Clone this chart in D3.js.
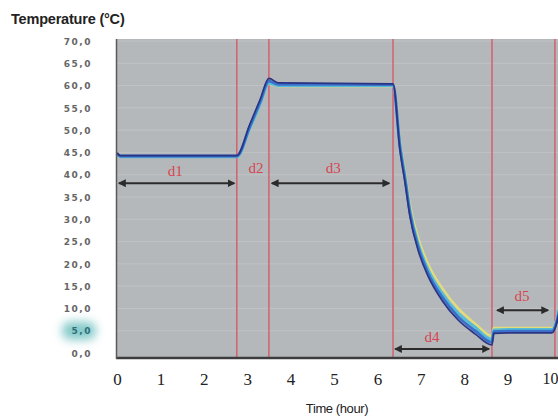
<!DOCTYPE html>
<html><head><meta charset="utf-8">
<script src="https://cdn.jsdelivr.net/npm/d3@7"></script>
<style>
html,body{margin:0;padding:0;background:#fff;overflow:hidden}
svg{display:block}
</style></head>
<body>
<svg id="chart" width="558" height="416"></svg>
<script>
// ---- data ----
const time   = [0, 0.08, 2.76, 3.06, 3.3, 3.5, 3.72, 6.36, 6.52, 6.64, 6.75, 6.94, 7.17, 7.49, 7.86, 8.25, 8.64, 8.68, 9.0, 10.02, 10.3];
const navy   = [44.9, 44.3, 44.3, 51.3, 56.9, 61.6, 60.6, 60.4, 45.5, 38.0, 30.6, 23.0, 17.2, 11.8, 7.4, 4.3, 1.8, 4.4, 4.5, 4.5, 15];
const blue   = [44.8, 44.2, 44.2, 50.8, 56.4, 61.0, 60.3, 60.2, 46.2, 38.8, 31.4, 23.8, 17.9, 12.6, 8.1, 5.0, 2.4, 4.8, 4.9, 4.9, 15];
const cyan   = [44.6, 44.0, 44.0, 50.3, 55.8, 60.5, 60.0, 60.0, 47.0, 39.6, 32.2, 24.6, 18.7, 13.4, 8.9, 5.8, 3.0, 5.2, 5.3, 5.3, 16];
const yellow = [44.6, 44.0, 44.0, 50.2, 55.7, 60.4, 59.9, 59.9, 47.6, 40.4, 33.2, 25.8, 19.9, 14.6, 10.0, 6.6, 3.8, 5.6, 5.6, 5.6, 16];
const seriesNames = ["yellow", "cyan", "blue", "navy"];
const seriesValues = [yellow, cyan, blue, navy];
const phaseBounds = [2.76, 3.5, 6.36, 8.64, 10.09];
const phaseLabels = ["d1", "d2", "d3", "d4", "d5"];
const labelTime   = [1.34, 3.2, 4.98, 7.26, 9.33];
const labelTemp   = [39.6, 40.4, 40.4, 2.5, 11.7];
const arrowStart  = [0.05, null, 3.57, 6.41, 8.76];
const arrowEnd    = [2.70, null, 6.27, 8.57, 9.93];
const arrowTemp   = [38.1, null, 38.1, 0.9, 9.6];
const xTicks = [0,1,2,3,4,5,6,7,8,9,10];
const yTicks = [0,5,10,15,20,25,30,35,40,45,50,55,60,65,70];

// ---- styles ----
const colors = {yellow:"#e2dd78", cyan:"#55bcd8", blue:"#3c6fca", navy:"#2a3483"};
const widths = {yellow:2.4, cyan:2.8, blue:2.8, navy:1.7};

const svg = d3.select("#chart");
const x = d3.scaleLinear().domain([0,10]).range([117,551]);
const y = d3.scaleLinear().domain([0,70]).range([353,41]);

const defs = svg.append("defs");
defs.append("clipPath").attr("id","plotclip").append("rect")
  .attr("x",117).attr("y",36).attr("width",441).attr("height",322);
const blur = defs.append("filter").attr("id","glow").attr("x","-50%").attr("y","-50%").attr("width","200%").attr("height","200%");
blur.append("feGaussianBlur").attr("stdDeviation",5);
const mk = (id, path, refX) => defs.append("marker").attr("id",id)
  .attr("viewBox","0 0 6 6").attr("refX",refX).attr("refY",3)
  .attr("markerWidth",4).attr("markerHeight",4).attr("orient","auto")
  .append("path").attr("d",path).attr("fill","#2b2b2b");
mk("ah","M0,0L6,3L0,6Z",5);
mk("at","M6,0L0,3L6,6Z",1);

// plot background
svg.append("rect").attr("x",116).attr("y",39).attr("width",442).attr("height",320).attr("fill","#b5b8bb");

// faint horizontal stripes
svg.append("g").selectAll("line").data(yTicks.slice(1)).join("line")
  .attr("x1",117).attr("x2",558).attr("y1",d=>y(d)).attr("y2",d=>y(d))
  .attr("stroke","#c3c6c8").attr("stroke-width",1).attr("opacity",0.8);

// glow around 5,0
svg.append("rect").attr("x",62).attr("y",y(5)-9).attr("width",34).attr("height",18).attr("rx",8)
  .attr("fill","#66bcbc").attr("opacity",0.8).attr("filter","url(#glow)");

// red phase boundaries
svg.append("g").selectAll("line").data(phaseBounds).join("line")
  .attr("x1",d=>x(d)).attr("x2",d=>x(d)).attr("y1",39).attr("y2",358)
  .attr("stroke","#d4606e").attr("stroke-width",1.5);

// lines
const line = d3.line().x(d=>x(d[0])).y(d=>y(d[1])).curve(d3.curveMonotoneX);
const lg = svg.append("g").attr("clip-path","url(#plotclip)");
seriesNames.forEach((name,i)=>{
  lg.append("path").datum(time.map((t,j)=>[t, seriesValues[i][j]]))
    .attr("d",line).attr("fill","none")
    .attr("stroke",colors[name]).attr("stroke-width",widths[name])
    .attr("stroke-linejoin","round");
});

// phase arrows and labels
phaseLabels.forEach((lab,i)=>{
  if(arrowStart[i]!==null){
    svg.append("line").attr("x1",x(arrowStart[i])).attr("x2",x(arrowEnd[i]))
      .attr("y1",y(arrowTemp[i])).attr("y2",y(arrowTemp[i]))
      .attr("stroke","#2b2b2b").attr("stroke-width",2)
      .attr("marker-start","url(#at)").attr("marker-end","url(#ah)");
  }
  svg.append("text").attr("x",x(labelTime[i])).attr("y",y(labelTemp[i]))
    .attr("text-anchor","middle").attr("font-family","Liberation Serif")
    .attr("font-size",15).attr("fill","#d8444f").text(lab);
});

// axes lines
svg.append("line").attr("x1",116).attr("x2",558).attr("y1",358).attr("y2",358)
  .attr("stroke","#3c3c3c").attr("stroke-width",2.5);
svg.append("line").attr("x1",116.5).attr("x2",116.5).attr("y1",39).attr("y2",359)
  .attr("stroke","#5a5a5a").attr("stroke-width",1.5);

// y axis labels
const yAxis = d3.axisLeft(y).tickValues(yTicks).tickSize(0).tickPadding(0)
  .tickFormat(d=>d3.format(".1f")(d).replace(".",","));
const yg = svg.append("g").attr("transform","translate(92,0)").call(yAxis);
yg.select(".domain").remove();
yg.selectAll("text").attr("font-family","DejaVu Sans").attr("font-weight","bold")
  .attr("font-size",9).attr("letter-spacing",1.5).attr("fill","#666").attr("dy","0.35em");
yg.selectAll("text").filter(d=>d===5).attr("fill","#2f6f78");

// x axis labels
const xAxis = d3.axisBottom(x).tickValues(xTicks).tickSize(0).tickPadding(0);
const xg = svg.append("g").attr("transform","translate(0,373)").call(xAxis);
xg.select(".domain").remove();
xg.selectAll("text").attr("font-family","Liberation Serif").attr("font-size",17)
  .attr("fill","#222").attr("dy","0.71em");
xg.selectAll("text").filter(d=>d===10).attr("font-size",16).attr("dx",-1);

// titles
svg.append("text").attr("x",11).attr("y",24).attr("font-family","Liberation Sans")
  .attr("font-weight","bold").attr("font-size",14.5).attr("fill","#222")
  .attr("letter-spacing",-0.2).text("Temperature (°C)");
svg.append("text").attr("x",337).attr("y",413).attr("text-anchor","middle")
  .attr("font-family","Liberation Sans").attr("font-size",13).attr("fill","#222")
  .attr("letter-spacing",-0.4).text("Time (hour)");
</script>
</body></html>
